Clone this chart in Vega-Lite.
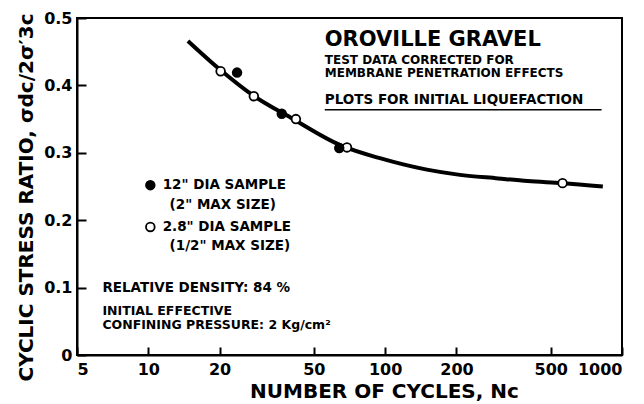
{
  "$schema": "https://vega.github.io/schema/vega-lite/v6.json",
  "autosize": {"type": "none"},
  "width": 545,
  "height": 337,
  "padding": {"left": 77, "top": 18, "right": 22, "bottom": 49},
  "background": "white",
  "config": {
    "view": {"stroke": "black", "strokeWidth": 2},
    "font": "DejaVu Sans",
    "axis": {
      "domainColor": "black", "domainWidth": 2, "tickColor": "black", "tickWidth": 2,
      "grid": false, "labelColor": "black", "titleColor": "black",
      "labelFont": "DejaVu Sans", "titleFont": "DejaVu Sans", "labelFontWeight": "bold", "titleFontWeight": "bold"
    }
  },
  "datasets": {
    "curve": [
      {"n": 14.7, "r": 0.466}, {"n": 20, "r": 0.424}, {"n": 28, "r": 0.384}, {"n": 40, "r": 0.352},
      {"n": 65, "r": 0.311}, {"n": 95, "r": 0.292}, {"n": 150, "r": 0.275}, {"n": 200, "r": 0.268},
      {"n": 300, "r": 0.262}, {"n": 400, "r": 0.258}, {"n": 560, "r": 0.255}, {"n": 830, "r": 0.25}
    ],
    "pts": [
      {"n": 20.2, "r": 0.421, "s": "open"}, {"n": 27.9, "r": 0.384, "s": "open"}, {"n": 42, "r": 0.35, "s": "open"},
      {"n": 69, "r": 0.308, "s": "open"}, {"n": 561, "r": 0.255, "s": "open"},
      {"n": 23.7, "r": 0.419, "s": "filled"}, {"n": 36.6, "r": 0.358, "s": "filled"}, {"n": 64, "r": 0.307, "s": "filled"},
      {"n": 10.2, "r": 0.252, "s": "filled"}, {"n": 10.2, "r": 0.19, "s": "open"}
    ],
    "big": [{"n": 55.6, "r": 0.467, "t": "OROVILLE  GRAVEL"}],
    "small": [
      {"n": 55.6, "r": 0.437, "t": "TEST DATA CORRECTED FOR"},
      {"n": 55.6, "r": 0.418, "t": "MEMBRANE  PENETRATION  EFFECTS"}
    ],
    "plots": [
      {"n": 55.6, "r": 0.378, "t": "PLOTS  FOR  INITIAL  LIQUEFACTION"}
    ],
    "notes": [
      {"n": 11.5, "r": 0.252, "t": "12\"  DIA  SAMPLE"},
      {"n": 12.3, "r": 0.222, "t": "(2\"  MAX  SIZE)"},
      {"n": 11.5, "r": 0.19, "t": "2.8\"  DIA  SAMPLE"},
      {"n": 12.3, "r": 0.162, "t": "(1/2\"  MAX  SIZE)"},
      {"n": 6.4, "r": 0.1, "t": "RELATIVE DENSITY: 84 %"}
    ],
    "notes2": [
      {"n": 6.4, "r": 0.066, "t": "INITIAL  EFFECTIVE"},
      {"n": 6.4, "r": 0.044, "t": "CONFINING  PRESSURE: 2 Kg/cm²"}
    ],
    "under": [{"n": 55.6, "n2": 820, "r": 0.364}]
  },
  "encoding": {
    "x": {
      "field": "n", "type": "quantitative",
      "scale": {"type": "log", "domain": [5, 1000], "nice": false},
      "axis": {
        "values": [5, 10, 20, 50, 100, 200, 500, 1000], "format": "d",
        "tickSize": -8, "labelPadding": 14, "labelFontSize": 16,
        "title": "NUMBER  OF  CYCLES,  Nc", "titleFontSize": 20, "titlePadding": 4, "titleX": 307
      }
    },
    "y": {
      "field": "r", "type": "quantitative",
      "scale": {"domain": [0, 0.5], "nice": false},
      "axis": {
        "values": [0, 0.1, 0.2, 0.3, 0.4, 0.5], "format": ".1~f",
        "tickSize": -9, "labelPadding": 14, "labelFontSize": 16,
        "title": "CYCLIC STRESS RATIO, σdc/2σ′3c", "titleFontSize": 20, "titlePadding": 7, "titleY": 179
      }
    }
  },
  "layer": [
    {"data": {"name": "curve"}, "mark": {"type": "line", "color": "black", "strokeWidth": 4, "interpolate": "monotone"}},
    {"data": {"name": "pts"}, "mark": {"type": "point", "shape": "circle", "size": 75, "stroke": "black", "strokeWidth": 1.8, "opacity": 1, "filled": false},
      "encoding": {"fill": {"field": "s", "type": "nominal", "scale": {"domain": ["filled", "open"], "range": ["black", "white"]}, "legend": null}}},
    {"data": {"name": "big"}, "mark": {"type": "text", "align": "left", "baseline": "middle", "fontSize": 21, "fontWeight": "bold", "color": "black"},
      "encoding": {"text": {"field": "t"}}},
    {"data": {"name": "small"}, "mark": {"type": "text", "align": "left", "baseline": "middle", "fontSize": 12, "fontWeight": "bold", "color": "black"},
      "encoding": {"text": {"field": "t"}}},
    {"data": {"name": "plots"}, "mark": {"type": "text", "align": "left", "baseline": "middle", "fontSize": 13.5, "fontWeight": "bold", "color": "black"},
      "encoding": {"text": {"field": "t"}}},
    {"data": {"name": "notes"}, "mark": {"type": "text", "align": "left", "baseline": "middle", "fontSize": 13.5, "fontWeight": "bold", "color": "black"},
      "encoding": {"text": {"field": "t"}}},
    {"data": {"name": "notes2"}, "mark": {"type": "text", "align": "left", "baseline": "middle", "fontSize": 12.5, "fontWeight": "bold", "color": "black"},
      "encoding": {"text": {"field": "t"}}},
    {"data": {"name": "under"}, "mark": {"type": "rule", "color": "black", "strokeWidth": 1.5},
      "encoding": {"x2": {"field": "n2"}}}
  ]
}
